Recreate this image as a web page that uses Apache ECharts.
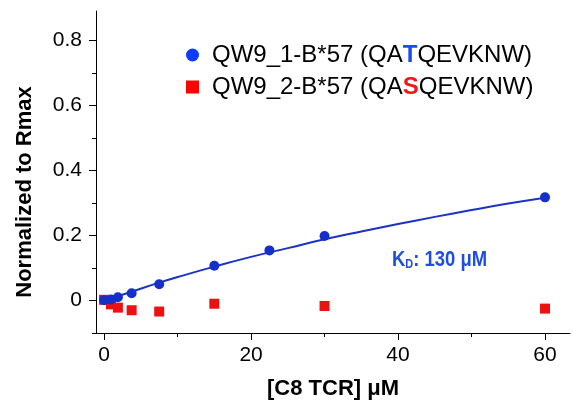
<!DOCTYPE html>
<html>
<head>
<meta charset="utf-8">
<script src="https://cdn.jsdelivr.net/npm/echarts@6/dist/echarts.min.js"></script>
<style>html,body{margin:0;padding:0;background:#fff}#c{width:573px;height:405px}</style>
</head>
<body>
<div id="c"></div>
<script>
// Data
var concBlue = [0, 0.94, 1.88, 3.75, 7.5, 15, 22.5, 30, 60];
var blueValues = [0.001, 0.003, 0.010, 0.022, 0.050, 0.107, 0.154, 0.198, 0.317];
var concRed = [0, 0.94, 1.88, 3.75, 7.5, 15, 30, 60];
var redValues = [0.002, -0.012, -0.022, -0.030, -0.034, -0.010, -0.017, -0.025];
var fitX = [0, 2, 4, 7.5, 10, 15, 20, 25, 30, 35, 40, 45, 50, 55, 60];
var fitY = [0, 0.014, 0.029, 0.055, 0.072, 0.104, 0.134, 0.161, 0.188, 0.212, 0.235, 0.257, 0.278, 0.298, 0.316];
var xMajorTicks = [0, 20, 40, 60];
var xMinorTicks = [10, 30, 50];
var yMajorTicks = [0, 0.2, 0.4, 0.6, 0.8];
var yMinorTicks = [-0.1, 0.1, 0.3, 0.5, 0.7];
var seriesNames = ['QW9_1-B*57 (QATQEVKNW)', 'QW9_2-B*57 (QASQEVKNW)'];

function pairs(xs, ys) { return xs.map(function (x, i) { return [x, ys[i]]; }); }

var FONT = "'Liberation Sans', Arial, Helvetica, sans-serif";
var chart = echarts.init(document.getElementById('c'));
var axisLineStyle = { color: '#000', width: 1 };
chart.setOption({
  animation: false,
  backgroundColor: '#fff',
  grid: { left: 96, right: 3, top: 11, bottom: 70, containLabel: false },
  xAxis: [{
    type: 'value', min: -1.1, max: 63.4, position: 'bottom',
    axisLine: { show: true, onZero: false, lineStyle: axisLineStyle },
    axisTick: { show: true, length: 7, customValues: xMajorTicks, lineStyle: axisLineStyle },
    axisLabel: { customValues: xMajorTicks, fontSize: 21, color: '#000', fontFamily: FONT, margin: 12 },
    splitLine: { show: false },
    name: '[C8 TCR] μM', nameLocation: 'middle', nameGap: 45,
    nameTextStyle: { fontSize: 22, fontWeight: 'bold', color: '#000', fontFamily: FONT }
  }, {
    type: 'value', min: -1.1, max: 63.4, position: 'bottom', offset: 0,
    axisLine: { show: false, onZero: false },
    axisTick: { show: true, length: 4, customValues: xMinorTicks, lineStyle: axisLineStyle },
    axisLabel: { show: false }, splitLine: { show: false }
  }],
  yAxis: [{
    type: 'value', min: -0.1, max: 0.89, position: 'left',
    axisLine: { show: true, onZero: false, lineStyle: axisLineStyle },
    axisTick: { show: true, length: 7, customValues: yMajorTicks, lineStyle: axisLineStyle },
    axisLabel: { customValues: yMajorTicks, fontSize: 21, color: '#000', fontFamily: FONT, margin: 14 },
    splitLine: { show: false }
  }, {
    type: 'value', min: -0.1, max: 0.89, position: 'left', offset: 0,
    axisLine: { show: false, onZero: false },
    axisTick: { show: true, length: 4, customValues: yMinorTicks, lineStyle: axisLineStyle },
    axisLabel: { show: false }, splitLine: { show: false }
  }],
  legend: {
    orient: 'vertical', left: 181, top: 38, itemWidth: 13, itemHeight: 13, itemGap: 8,
    data: [
      { name: seriesNames[0], icon: 'circle', itemStyle: { color: '#0b3cff' } },
      { name: seriesNames[1], icon: 'rect', itemStyle: { color: '#ff0000' } }
    ],
    formatter: function (name) {
      if (name === seriesNames[0]) return '{f|QW9_1-B*57 (QA}{t|T}{a|QEVKNW)}';
      return '{f|QW9_2-B*57 (QA}{s|S}{a|QEVKNW)}';
    },
    textStyle: {
      fontSize: 24, color: '#000', fontFamily: FONT,
      rich: {
        f: { fontSize: 24, color: '#000', fontFamily: FONT, padding: [0, 0, 0, 8] },
        a: { fontSize: 24, color: '#000', fontFamily: FONT },
        t: { fontSize: 24, color: '#1a4cf5', fontWeight: 'bold', fontFamily: FONT },
        s: { fontSize: 24, color: '#f01818', fontWeight: 'bold', fontFamily: FONT }
      }
    }
  },
  graphic: [{
    type: 'text', x: 25, y: 192, rotation: Math.PI / 2,
    style: { text: 'Normalized to Rmax', font: 'bold 22px ' + FONT, fill: '#000', align: 'center', verticalAlign: 'middle' }
  }, {
    type: 'text', x: 392, y: 247, scaleX: 0.84,
    style: {
      text: '{k|K}{d|D}{k|: 130 μM}',
      rich: {
        k: { fontSize: 22, fontWeight: 'bold', fill: '#1f4de0', fontFamily: FONT, verticalAlign: 'bottom', lineHeight: 24 },
        d: { fontSize: 13, fontWeight: 'bold', fill: '#1f4de0', fontFamily: FONT, verticalAlign: 'bottom', lineHeight: 18 }
      }
    }
  }],
  series: [{
    name: seriesNames[1], type: 'scatter', symbol: 'rect', symbolSize: 10,
    itemStyle: { color: '#ee1111', opacity: 1 },
    data: pairs(concRed, redValues), z: 2
  }, {
    name: 'fit', type: 'line', data: pairs(fitX, fitY), smooth: true, showSymbol: false,
    lineStyle: { color: '#1a33c4', width: 2 }, z: 3
  }, {
    name: seriesNames[0], type: 'scatter', symbol: 'circle', symbolSize: 10,
    itemStyle: { color: '#1530c8', opacity: 1 },
    data: pairs(concBlue, blueValues), z: 4
  }]
});
</script>
</body>
</html>
